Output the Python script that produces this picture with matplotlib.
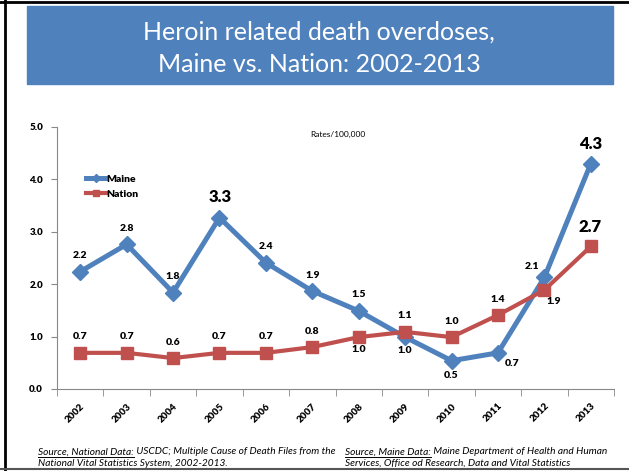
import matplotlib
matplotlib.use("Agg")
import matplotlib.pyplot as plt
from matplotlib.patches import Rectangle
from matplotlib.lines import Line2D

plt.rcParams['font.family'] = ['Lato', 'DejaVu Sans']

years = ['2002', '2003', '2004', '2005', '2006', '2007',
         '2008', '2009', '2010', '2011', '2012', '2013']
maine = [2.24, 2.76, 1.84, 3.27, 2.41, 1.87, 1.49, 0.99, 0.54, 0.69, 2.13, 4.30]
nation = [0.69, 0.69, 0.59, 0.69, 0.69, 0.80, 0.99, 1.09, 0.99, 1.41, 1.89, 2.72]
yticks = [0.0, 1.0, 2.0, 3.0, 4.0, 5.0]

blue = '#4F81BD'
red = '#C0504D'
BOLD = 'heavy'

fig = plt.figure(figsize=(6.29, 4.71), dpi=100)
W, H = 629, 471

def px(x, y):
    # pixel position from top-left -> figure fraction
    return x / W, 1 - y / H

# slide frame
fig.add_artist(Line2D([5 / W, 5 / W], [0, 1], color='black', lw=2))
fig.add_artist(Line2D([0, 1], [1 - 2 / H, 1 - 2 / H], color='black', lw=2))
fig.add_artist(Line2D([0, 1], [1 - 469 / H, 1 - 469 / H], color='#555555', lw=1.5))

# title box
x0, y0 = px(27, 84)
fig.add_artist(Rectangle((x0, y0), (613 - 27) / W, (84 - 6) / H,
                         transform=fig.transFigure, color=blue, zorder=0))
fig.text(*px(319, 32), 'Heroin related death overdoses,', color='white',
         fontsize=18, ha='center', va='center')
fig.text(*px(319, 65), 'Maine vs. Nation: 2002-2013', color='white',
         fontsize=18, ha='center', va='center')

ax = fig.add_axes([57 / W, 1 - 389 / H, (614 - 57) / W, (389 - 127) / H])
x = list(range(len(years)))

ax.plot(x, maine, color=blue, lw=3.6, marker='D', ms=8, label='Maine', zorder=3)
ax.plot(x, nation, color=red, lw=3.0, marker='s', ms=8.5, label='Nation', zorder=3)

ax.set_xlim(-0.5, len(years) - 0.5)
ax.set_ylim(0, 5)
ax.set_yticks(yticks)
ax.set_yticklabels(['%.1f' % v for v in yticks], fontsize=7, fontweight=BOLD)
ax.set_xticks(x)
ax.set_xticklabels(years, rotation=45, ha='right', rotation_mode='anchor',
                   fontsize=7, fontweight=BOLD)
ax.set_xticks([i - 0.5 for i in range(len(years) + 1)], minor=True)
ax.tick_params(axis='x', which='major', length=0, pad=9)
ax.tick_params(axis='x', which='minor', length=5, color='#888888', direction='out')
ax.tick_params(axis='y', length=4, color='#888888', pad=6)
for s in ['top', 'right']:
    ax.spines[s].set_visible(False)
for s in ['left', 'bottom']:
    ax.spines[s].set_color('#888888')

# data labels (offsets in pixels)
maine_off = {3: (1, 21), 7: (0, -13), 8: (0, -15), 9: (14, -11),
             10: (-12, 11), 11: (0, 20)}
nation_off = {6: (0, -12), 10: (9, -12), 11: (-1, 19)}
big_maine = {3, 11}
big_nation = {11}

for i, v in enumerate(maine):
    off = maine_off.get(i, (0, 16))
    ax.annotate('%.1f' % v, (i, v), xytext=off, textcoords='offset pixels',
                ha='center', va='center', fontweight=BOLD,
                fontsize=12 if i in big_maine else 7.5, zorder=5)
for i, v in enumerate(nation):
    off = nation_off.get(i, (0, 16))
    ax.annotate('%.1f' % v, (i, v), xytext=off, textcoords='offset pixels',
                ha='center', va='center', fontweight=BOLD,
                fontsize=12 if i in big_nation else 7.5, zorder=5)

ax.text(0.455, 0.97, 'Rates/100,000', transform=ax.transAxes, fontsize=6,
        ha='left', va='center')

leg = ax.legend(loc='upper left', bbox_to_anchor=(0.035, 0.855), frameon=False,
                fontsize=7.5, handlelength=1.9, handletextpad=0.1,
                labelspacing=0.55, markerscale=0.5)
for t in leg.get_texts():
    t.set_fontweight(BOLD)

# footer with underlined prefixes
fig.canvas.draw()
renderer = fig.canvas.get_renderer()

def source(xp, yp, prefix, rest, line2):
    t1 = fig.text(*px(xp, yp), prefix, fontsize=7.3, style='italic', va='center')
    bb = t1.get_window_extent(renderer)
    fig.text(bb.x1 / W, 1 - yp / H, ' ' + rest, fontsize=7.3, style='italic',
             va='center')
    fig.add_artist(Line2D([bb.x0 / W, bb.x1 / W], [bb.y0 / H, bb.y0 / H],
                          color='black', lw=0.7))
    fig.text(*px(xp, yp + 11), line2, fontsize=7.3, style='italic', va='center')

source(38, 452, 'Source, National Data:',
       'USCDC; Multiple Cause of Death Files from the',
       'National Vital Statistics System, 2002-2013.')
source(345, 452, 'Source, Maine Data:',
       'Maine Department of Health and Human',
       'Services, Office od Research, Data and Vital Statistics')

fig.savefig('out.png', dpi=100)
